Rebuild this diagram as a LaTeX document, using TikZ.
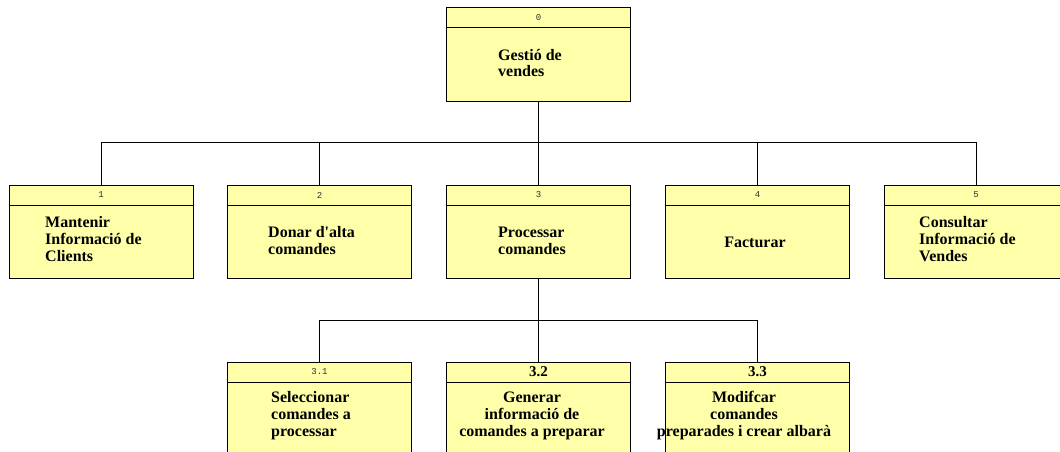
\documentclass[tikz,border=0pt]{standalone}
\usepackage{fontspec}
\newfontfamily\lbs{Liberation Serif}
\newfontfamily\hdrfont{Liberation Mono}
\definecolor{boxfill}{HTML}{FFFFAA}
\definecolor{hdrgray}{HTML}{303030}
\tikzset{
  procbox/.style={draw=black, line width=1pt, fill=boxfill, rectangle, anchor=north west,
    minimum width=184pt, minimum height=93pt, inner sep=0pt, outer sep=0pt},
  hdrline/.style={draw=black, line width=1pt},
  hdrnum/.style={font=\hdrfont\fontsize{9}{10}\selectfont, text=hdrgray, inner sep=0pt},
  hdrbig/.style={font=\lbs\bfseries\fontsize{15}{16}\selectfont, inner sep=0pt},
  txtl/.style={font=\lbs\bfseries\fontsize{16}{17}\selectfont, inner sep=0pt, align=left, anchor=base west},
  txtc/.style={font=\lbs\bfseries\fontsize{16}{17}\selectfont, inner sep=0pt, align=center, anchor=base},
  conn/.style={draw=black, line width=0.8pt}
}
\begin{document}
\begin{tikzpicture}[x=1pt, y=-1pt]
\clip (0,0) rectangle (1060,452);
\fill[white] (0,0) rectangle (1060,452);
% boxes
\node[procbox] (b0) at (446.5,8) {};
\node[procbox] (b1) at (9,185) {};
\node[procbox] (b2) at (227.5,185) {};
\node[procbox] (b3) at (446.5,185) {};
\node[procbox] (b4) at (665.5,185) {};
\node[procbox] (b5) at (884,185) {};
\node[procbox] (b31) at (227.5,362) {};
\node[procbox] (b32) at (446.5,362) {};
\node[procbox] (b33) at (665.5,362) {};
% header lines
\foreach \b in {b0,b1,b2,b3,b4,b5,b31,b32,b33}{
  \draw[hdrline] ([yshift=-20pt]\b.north west) -- ([yshift=-20pt]\b.north east);
}
% header labels
\node[hdrnum] (h0) at ([yshift=-10pt]b0.north) {0};
\node[hdrnum] (h1) at ([yshift=-10pt]b1.north) {1};
\node[hdrnum] (h2) at ([yshift=-10pt]b2.north) {2};
\node[hdrnum] (h3) at ([yshift=-10pt]b3.north) {3};
\node[hdrnum] (h4) at ([yshift=-10pt]b4.north) {4};
\node[hdrnum] (h5) at ([yshift=-10pt]b5.north) {5};
\node[hdrnum] (h31) at ([yshift=-10pt]b31.north) {3.1};
\node[hdrbig] (h32) at ([yshift=-10pt]b32.north) {3.2};
\node[hdrbig] (h33) at ([yshift=-10pt]b33.north) {3.3};
% texts (anchor = baseline of last line)
\node[txtl] (t0) at (498,77) {Gestió de\\vendes};
\node[txtl] (t1) at (45,261) {Mantenir\\Informació de\\Clients};
\node[txtl] (t2) at (268,254) {Donar d'alta\\comandes};
\node[txtl] (t3) at (498,254) {Processar\\comandes};
\node[txtc] (t4) at (755,247) {Facturar};
\node[txtl] (t5) at (919,261) {Consultar\\Informació de\\Vendes};
\node[txtl] (t31) at (271,436) {Seleccionar\\comandes a\\processar};
\node[txtc] (t32) at (532,436) {Generar\\informació de\\comandes a preparar};
\node[txtc] (t33) at (744,436) {Modifcar\\comandes\\preparades i crear albarà};
% connectors
\coordinate (bus1) at (538.5,142);
\coordinate (bus2) at (538.5,320);
\draw[conn] (b0.south) -- (bus1);
\foreach \c in {b1,b2,b3,b4,b5}{ \draw[conn] (bus1) -| (\c.north); }
\draw[conn] (b3.south) -- (bus2);
\foreach \c in {b31,b32,b33}{ \draw[conn] (bus2) -| (\c.north); }
\end{tikzpicture}
\end{document}
